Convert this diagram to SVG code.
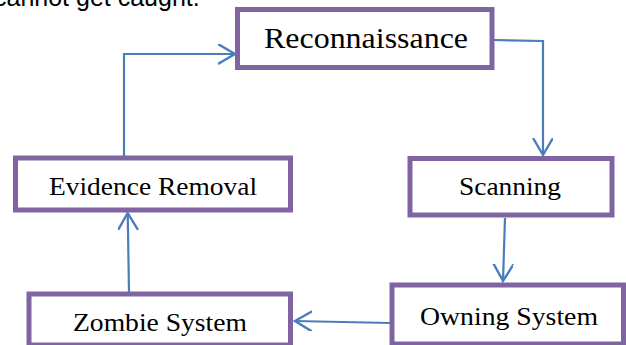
<svg xmlns="http://www.w3.org/2000/svg" width="626" height="345" viewBox="0 0 626 345">
<style>
.box{fill:#fff;stroke:#8064A2;stroke-width:5}
.lbl{font-family:"Liberation Serif","Times New Roman",serif;fill:#000;text-anchor:middle}
.con{fill:none;stroke:#4A7EBB;stroke-width:2.2}
</style>
<defs>
<marker id="arr" markerUnits="userSpaceOnUse" markerWidth="24" markerHeight="24" refX="17" refY="10" orient="auto">
<path d="M0,0 L17,10 L0,20" fill="none" stroke="#4A7EBB" stroke-width="2.4"/>
</marker>
</defs>
<rect width="626" height="345" fill="#fff"/>
<text x="-6" y="6" font-family="Liberation Sans,Arial,sans-serif" font-size="25" fill="#000">cannot get caught.</text>
<g id="reconnaissance"><rect class="box" x="237.5" y="9.5" width="254.5" height="58"/><text class="lbl" x="366" y="48" font-size="29" textLength="204" lengthAdjust="spacingAndGlyphs">Reconnaissance</text></g>
<g id="scanning"><rect class="box" x="410" y="158.5" width="202" height="56.5"/><text class="lbl" x="510" y="195" font-size="25" textLength="102" lengthAdjust="spacingAndGlyphs">Scanning</text></g>
<g id="owning-system"><rect class="box" x="392" y="285" width="231.5" height="59"/><text class="lbl" x="509" y="325" font-size="25" textLength="178" lengthAdjust="spacingAndGlyphs">Owning System</text></g>
<g id="zombie-system"><rect class="box" x="29" y="294" width="261.5" height="51"/><text class="lbl" x="160" y="331" font-size="25" textLength="174" lengthAdjust="spacingAndGlyphs">Zombie System</text></g>
<g id="evidence-removal"><rect class="box" x="15.5" y="158" width="275" height="52"/><text class="lbl" x="153" y="195" font-size="25" textLength="208" lengthAdjust="spacingAndGlyphs">Evidence Removal</text></g>
<g id="connectors">
<polyline class="con" points="494,40 543,41 543,155" marker-end="url(#arr)"/>
<line class="con" x1="505" y1="218" x2="503" y2="281" marker-end="url(#arr)"/>
<line class="con" x1="390" y1="323" x2="295" y2="321" marker-end="url(#arr)"/>
<line class="con" x1="129" y1="292" x2="127.7" y2="213" marker-end="url(#arr)"/>
<polyline class="con" points="124,156 124,54 235,54" marker-end="url(#arr)"/>
</g>
</svg>
